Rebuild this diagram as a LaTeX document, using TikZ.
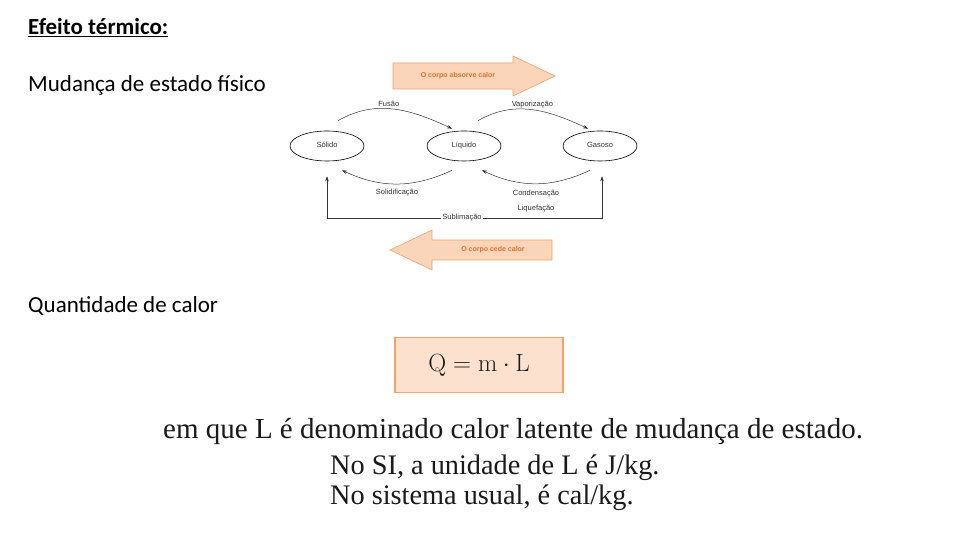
\documentclass[tikz,border=0pt]{standalone}
\usepackage[no-math]{fontspec}
\setmainfont{Carlito}
\newfontfamily\diagfont{Liberation Sans}
\newfontfamily\bookfont{Liberation Serif}
\usepackage{xcolor}
\definecolor{heatFill}{HTML}{FBD5BA}
\definecolor{heatLine}{HTML}{F2A26E}
\definecolor{heatText}{HTML}{E0702A}
\definecolor{boxFill}{HTML}{FCE1CF}
\definecolor{boxLine}{HTML}{F0A36E}
\definecolor{inkGray}{HTML}{333333}
\definecolor{bookInk}{HTML}{1A1A1A}
\usepackage{tikz}
\usetikzlibrary{
    arrows.meta,
    positioning,
    shapes.geometric
}
\tikzset{
    % Ellipses for the three phases
    phase/.style={
        ellipse,
        draw=black,
        line width=0.6pt,
        minimum width=74pt,
        minimum height=30pt,
        inner sep=0pt,
        text height=5.5pt,
        text depth=1.5pt,
        font=\diagfont\fontsize{7.5}{9}\selectfont,
        text=inkGray,
    },
    % Curved arrows between phases
    change/.style={
        -{Stealth[length=5pt, width=3.5pt]},
        line width=0.5pt,
        draw=inkGray,
    },
    % Labels of the changes
    change label/.style={
        font=\diagfont\fontsize{7.5}{9}\selectfont,
        text=inkGray,
        inner sep=1.5pt,
    },
    % Big orange heat arrows
    heat arrow/.style={
        fill=heatFill,
        draw=heatLine,
        line width=0.6pt,
    },
    heat label/.style={
        font=\diagfont\bfseries\fontsize{7}{8}\selectfont,
        text=heatText,
    },
    % Slide text (Calibri-like)
    slide text/.style={
        anchor=base west,
        font=\fontsize{23}{27}\selectfont,
        inner sep=0pt,
    },
    % Scanned book text
    book text/.style={
        anchor=base west,
        font=\bookfont\fontsize{29}{34}\selectfont,
        text=bookInk,
        inner sep=0pt,
    },
    formula box/.style={
        draw=boxLine,
        fill=boxFill,
        line width=1.2pt,
        minimum width=168pt,
        minimum height=55pt,
        font=\fontsize{27}{32}\selectfont,
        text=bookInk,
    },
}

\begin{document}
\begin{tikzpicture}[x=1pt, y=1pt]
    \useasboundingbox (0,0) rectangle (960,540);

    \node (titulo) [slide text, font=\bfseries\fontsize{23}{27}\selectfont] at (28,505) {\underline{Efeito térmico:}};
    \node (mudanca) [slide text] at (28,448) {Mudança de estado físico};
    \node (quantidade) [slide text] at (28,227) {Quantidade de calor};

    % heat arrows
    \draw [heat arrow] (393,451) -- (513,451) -- (513,444) -- (555,464) -- (513,484) -- (513,477) -- (393,477) -- cycle;
    \node (absorve) [heat label] at (458,464) {O corpo absorve calor};
    \draw [heat arrow] (552,280) -- (432,280) -- (432,270) -- (390,290) -- (432,310) -- (432,300) -- (552,300) -- cycle;
    \node (cede) [heat label] at (493,290) {O corpo cede calor};

    % phases
    \node (solido) [phase] at (327,394) {Sólido};
    \node (liquido) [phase] at (464,394) {Líquido};
    \node (gasoso) [phase] at (600,394) {Gasoso};

    % changes of state
    \draw [change] ([xshift=11pt,yshift=10pt]solido.north) to[out=30, in=155]
        node [change label, above, pos=0.45] {Fusão} ([xshift=-12pt,yshift=2pt]liquido.north);
    \draw [change] ([xshift=14pt,yshift=10pt]liquido.north) to[out=30, in=155]
        node [change label, above, pos=0.5] {Vaporização} ([xshift=-12pt,yshift=2pt]gasoso.north);
    \draw [change] ([xshift=-12pt,yshift=-9pt]liquido.south) to[out=205, in=-25]
        node [change label, below=3pt, pos=0.5] {Solidificação} ([xshift=15pt,yshift=-9pt]solido.south);
    \draw [change] ([xshift=-10pt,yshift=-9pt]gasoso.south) to[out=205, in=-25]
        node [change label, below=5pt, pos=0.5, align=center] {Condensação\\[6pt]Liquefação} ([xshift=18pt,yshift=-9pt]liquido.south);

    \node (sublima) [change label] at (462,322) {Sublimação};
    \draw [change] (sublima.west) -| ([yshift=-15pt]solido.south);
    \draw [change] (sublima.east) -| ([xshift=2pt,yshift=-15pt]gasoso.south);

    % formula
    \node (formula) [formula box] at (479,175) {$\mathrm{Q = m \cdot L}$};

    \node (linha1) [book text] at (163,101) {em que L é denominado calor latente de mudança de estado.};
    \node (linha2) [book text, font=\bookfont\fontsize{28.3}{34}\selectfont] at (330,65) {No SI, a unidade de L é J/kg.};
    \node (linha3) [book text, font=\bookfont\fontsize{28.3}{34}\selectfont] at (330,35) {No sistema usual, é cal/kg.};
\end{tikzpicture}
\end{document}
